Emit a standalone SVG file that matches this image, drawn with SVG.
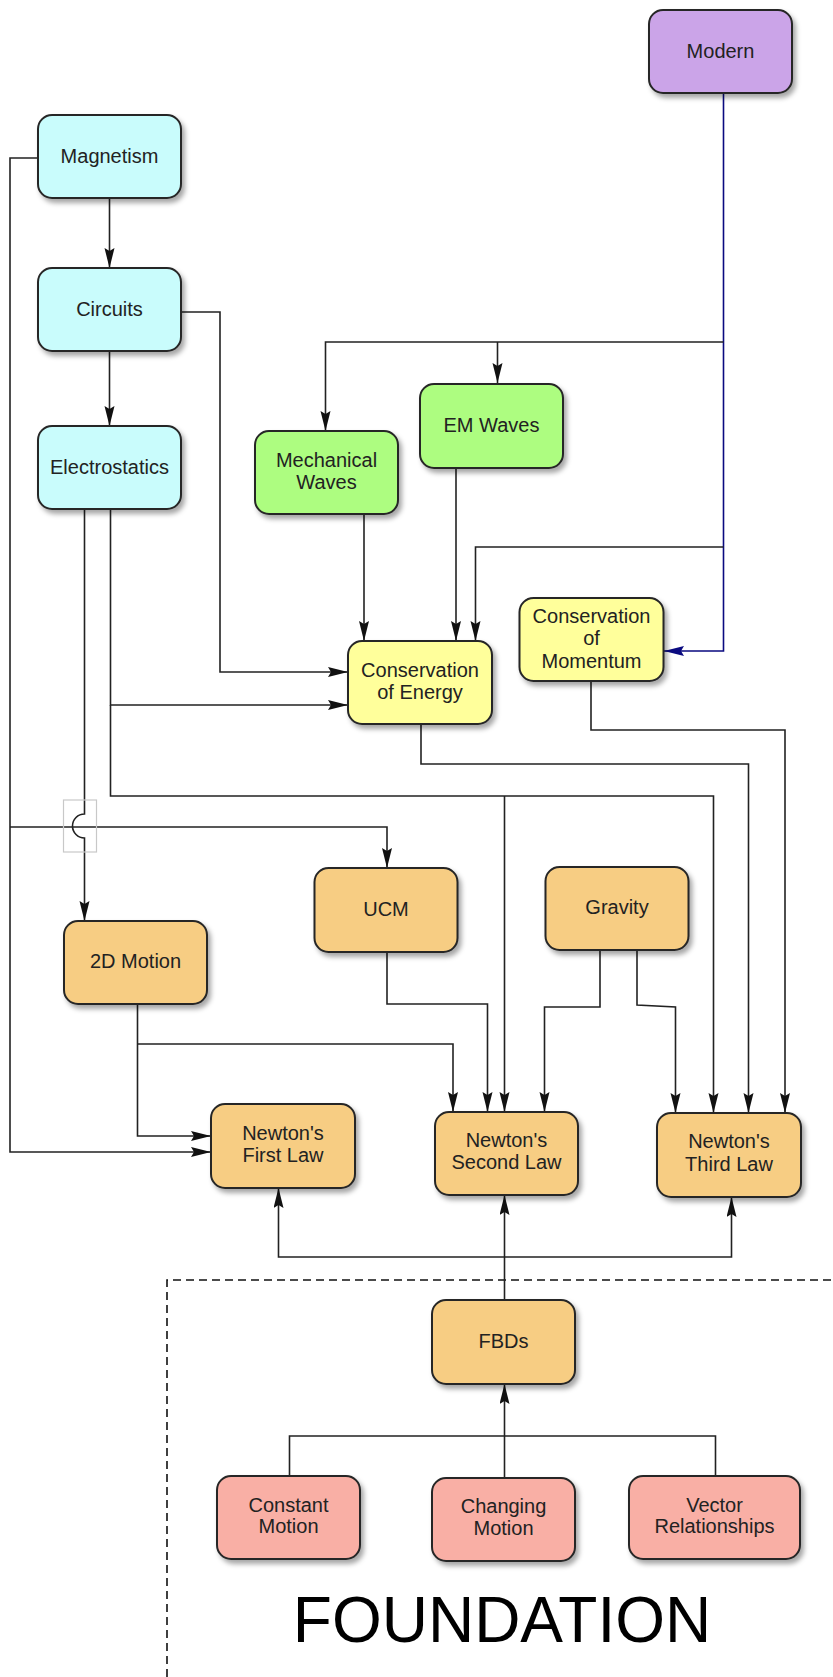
<svg xmlns="http://www.w3.org/2000/svg" width="833" height="1677" viewBox="0 0 833 1677">
<style>
.n rect{stroke:#262626;stroke-width:2;filter:url(#sh)}
.n text{font-family:"Liberation Sans",Arial,sans-serif;font-size:20px;fill:#222;text-anchor:middle}
.cyan rect{fill:#C9FCFC}
.purple rect{fill:#CBA4E8}
.green rect{fill:#ADFD80}
.yellow rect{fill:#FFFF9B}
.orange rect{fill:#F7CD83}
.pink rect{fill:#F9AFA5}
.c path{fill:none;stroke:#222;stroke-width:1.6}
.c path.a{marker-end:url(#ah)}
.c path.b{stroke:#0A0A80;marker-end:url(#ab)}
</style>
<defs>
<filter id="sh" x="-20%" y="-20%" width="150%" height="150%">
<feDropShadow dx="3" dy="4" stdDeviation="2.5" flood-color="#000" flood-opacity="0.35"/>
</filter>
<marker id="ah" markerUnits="userSpaceOnUse" markerWidth="22" markerHeight="12" refX="20" refY="5" orient="auto">
<path d="M0,0 L20,5 L0,10 L3,5 z" fill="#111"/>
</marker>
<marker id="ab" markerUnits="userSpaceOnUse" markerWidth="22" markerHeight="12" refX="20" refY="5" orient="auto">
<path d="M0,0 L20,5 L0,10 L3,5 z" fill="#0A0A80"/>
</marker>
</defs>
<rect width="833" height="1677" fill="#fff"/>

<g id="foundation-frame">
<path d="M167,1677 L167,1280 L833,1280" fill="none" stroke="#111" stroke-width="1.6" stroke-dasharray="8,5"/>
<text x="502" y="1642" font-family="'Liberation Sans',Arial,sans-serif" font-size="64" text-anchor="middle" fill="#000">FOUNDATION</text>
</g>

<g id="connectors" class="c">
<path class="a" d="M109.5,198 L109.5,268"/>
<path class="a" d="M109.5,351 L109.5,426"/>
<path class="a" d="M38,158 L10,158 L10,1152 L211,1152"/>
<path class="a" d="M10,827 L387,827 L387,868"/>
<path class="a" d="M182,312 L220,312 L220,672 L348,672"/>
<path class="a" d="M110.5,509 L110.5,705 L348,705"/>
<path class="a" d="M110.5,705 L110.5,796 L713.5,796 L713.5,1113"/>
<path class="a" d="M504.5,796 L504.5,1112"/>
<path class="a" d="M84.5,509 L84.5,814 A12,12 0 0 0 84.5,838 L84.5,921"/>
<path class="b" d="M723.5,93 L723.5,651 L664,651"/>
<path class="a" d="M723.5,342 L325.5,342 L325.5,431"/>
<path class="a" d="M497.5,342 L497.5,383"/>
<path class="a" d="M723.5,547 L475.5,547 L475.5,641"/>
<path class="a" d="M364,514 L364,641"/>
<path class="a" d="M456,468 L456,641"/>
<path class="a" d="M421,724 L421,764 L748.5,764 L748.5,1113"/>
<path class="a" d="M591,681 L591,730 L785,730 L785,1113"/>
<path class="a" d="M387,952 L387,1004 L487.5,1004 L487.5,1112"/>
<path class="a" d="M600,950 L600,1007 L544.5,1007 L544.5,1112"/>
<path class="a" d="M637,950 L637,1005 L675.5,1007 L675.5,1113"/>
<path class="a" d="M137.5,1004 L137.5,1136 L211,1136"/>
<path class="a" d="M137.5,1044 L453,1044 L453,1112"/>
<path class="a" d="M504.5,1300 L504.5,1195"/>
<path class="a" d="M504.5,1257 L278.5,1257 L278.5,1188"/>
<path class="a" d="M504.5,1257 L731.5,1257 L731.5,1197"/>
<path class="a" d="M504.5,1478 L504.5,1384"/>
<path d="M289.5,1476 L289.5,1436 L715.5,1436 L715.5,1476"/>
<rect x="63.5" y="800" width="33" height="52" fill="none" stroke="#c8c8c8" stroke-width="1.2"/>
</g>

<g id="modern" class="n purple"><rect x="649" y="10" width="143" height="83" rx="14"/><text x="720.5" y="58">Modern</text></g>
<g id="magnetism" class="n cyan"><rect x="38" y="115" width="143" height="83" rx="14"/><text x="109.5" y="163">Magnetism</text></g>
<g id="circuits" class="n cyan"><rect x="38" y="268" width="143" height="83" rx="14"/><text x="109.5" y="316">Circuits</text></g>
<g id="electrostatics" class="n cyan"><rect x="38" y="426" width="143" height="83" rx="14"/><text x="109.5" y="474">Electrostatics</text></g>
<g id="mechanical-waves" class="n green"><rect x="255" y="431" width="143" height="83" rx="14"/><text x="326.5" y="467">Mechanical</text><text x="326.5" y="489">Waves</text></g>
<g id="em-waves" class="n green"><rect x="420" y="384" width="143" height="84" rx="14"/><text x="491.5" y="432">EM Waves</text></g>
<g id="conservation-energy" class="n yellow"><rect x="348" y="641" width="144" height="83" rx="14"/><text x="420" y="677">Conservation</text><text x="420" y="699">of Energy</text></g>
<g id="conservation-momentum" class="n yellow"><rect x="519.5" y="598" width="144" height="83" rx="14"/><text x="591.5" y="623">Conservation</text><text x="591.5" y="645">of</text><text x="591.5" y="668">Momentum</text></g>
<g id="ucm" class="n orange"><rect x="314.5" y="868" width="143" height="84" rx="14"/><text x="386" y="916">UCM</text></g>
<g id="gravity" class="n orange"><rect x="545.5" y="867" width="143" height="83" rx="14"/><text x="617" y="914">Gravity</text></g>
<g id="motion-2d" class="n orange"><rect x="64" y="921" width="143" height="83" rx="14"/><text x="135.5" y="968">2D Motion</text></g>
<g id="newton-first" class="n orange"><rect x="211" y="1104" width="144" height="84" rx="14"/><text x="283" y="1140">Newton's</text><text x="283" y="1162">First Law</text></g>
<g id="newton-second" class="n orange"><rect x="435" y="1112" width="143" height="83" rx="14"/><text x="506.5" y="1147">Newton's</text><text x="506.5" y="1169">Second Law</text></g>
<g id="newton-third" class="n orange"><rect x="657" y="1113" width="144" height="84" rx="14"/><text x="729" y="1148">Newton's</text><text x="729" y="1171">Third Law</text></g>
<g id="fbds" class="n orange"><rect x="432" y="1300" width="143" height="84" rx="14"/><text x="503.5" y="1348">FBDs</text></g>
<g id="constant-motion" class="n pink"><rect x="217" y="1476" width="143" height="83" rx="14"/><text x="288.5" y="1512">Constant</text><text x="288.5" y="1533">Motion</text></g>
<g id="changing-motion" class="n pink"><rect x="432" y="1478" width="143" height="83" rx="14"/><text x="503.5" y="1513">Changing</text><text x="503.5" y="1535">Motion</text></g>
<g id="vector-relationships" class="n pink"><rect x="629" y="1476" width="171" height="83" rx="14"/><text x="714.5" y="1512">Vector</text><text x="714.5" y="1533">Relationships</text></g>
</svg>
